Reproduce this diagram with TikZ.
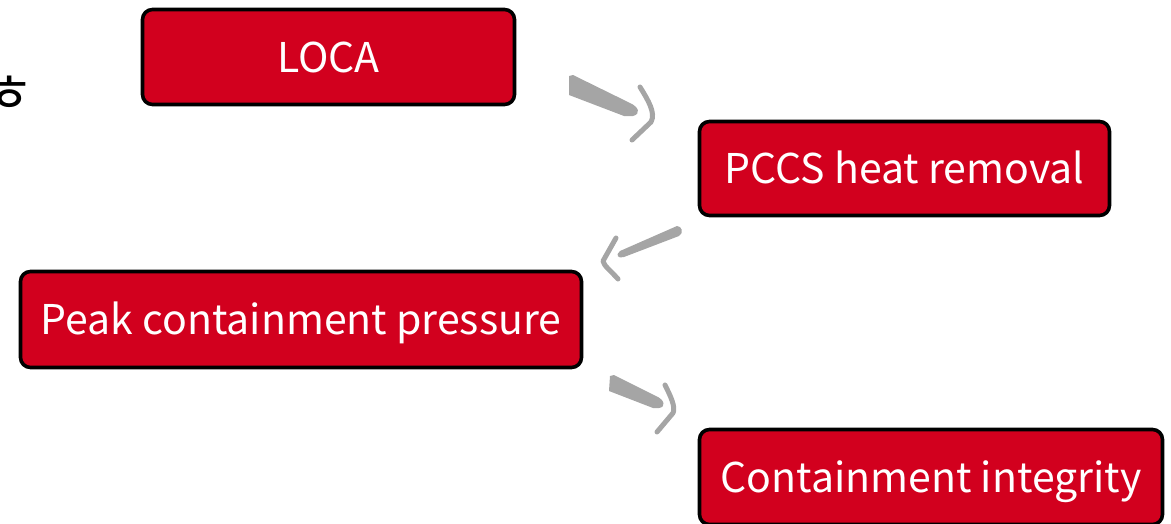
\documentclass[tikz,border=0pt]{standalone}
\usepackage{fontspec}
\setmainfont{Noto Sans CJK KR}
\definecolor{boxred}{RGB}{210,0,30}
\definecolor{brush}{RGB}{165,165,165}
\begin{document}
\begin{tikzpicture}[x=1pt,y=-1pt,
  stepbox/.style={draw=black, line width=3.6pt, fill=boxred, rounded corners=10pt,
    text=white, font=\fontsize{41}{41}\selectfont, inner sep=0pt, anchor=center,
    text height=30pt, text depth=0pt},
  shaft/.style={fill=brush, draw=none},
  hook/.style={draw=brush, line width=5pt, line cap=round, line join=round}]
\useasboundingbox (0,0) rectangle (1171,523);
\clip (0,0) rectangle (1171,523);
\node[font=\fontsize{54}{54}\selectfont, anchor=center, inner sep=0pt] (kor) at (9,94) {ㅎ};
\node[stepbox, minimum width=372pt, minimum height=95pt] (loca) at (328.5,57) {LOCA};
\node[stepbox, minimum width=410pt, minimum height=94pt] (pccs) at (904.5,168.5) {PCCS heat removal};
\node[stepbox, minimum width=561pt, minimum height=96pt] (peak) at (301,319.5) {Peak containment pressure};
\node[stepbox, minimum width=463pt, minimum height=95pt] (integ) at (931,477) {Containment integrity};
% brush arrow 1 (LOCA -> PCCS)
\fill[shaft] (569,76) -- (573,75) -- (630,103) .. controls (639,107) and (641,114) .. (633,116)
  -- (624,116) -- (569,95) -- cycle;
\draw[hook] (640,87) .. controls (648,100) and (656,113) .. (651,122) -- (632,140);
% brush arrow 2 (PCCS -> Peak)
\fill[shaft] (677,226) .. controls (682,226) and (684,233) .. (679,236)
  -- (624,257) .. controls (618,259) and (615,255) .. (620,251) -- cycle;
\draw[hook] (616,238) -- (603,261) .. controls (604,266) and (610,270) .. (618,279);
% brush arrow 3 (Peak -> Containment integrity)
\fill[shaft] (610,376) -- (614,375) -- (656,396) .. controls (665,400) and (666,407) .. (659,408)
  -- (653,408) -- (609,391) -- cycle;
\draw[hook] (665,385) .. controls (670,395) and (676,407) .. (673,413) -- (657,432);
\end{tikzpicture}
\end{document}
